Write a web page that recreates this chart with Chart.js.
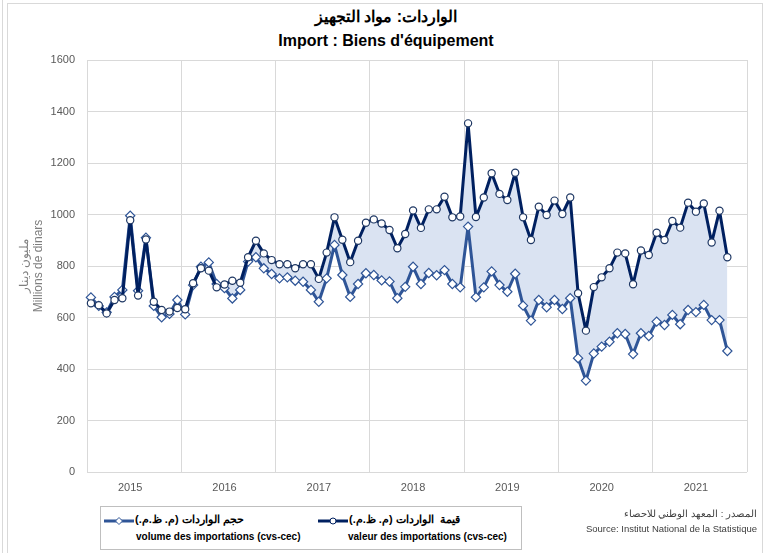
<!DOCTYPE html>
<html>
<head>
<meta charset="utf-8">
<script src="https://cdn.jsdelivr.net/npm/chart.js@4.4.1/dist/chart.umd.min.js"></script>
<style>
  body { margin: 0; background: #fff; font-family: "Liberation Sans", Arial, sans-serif; }
  #wrap { position: relative; width: 767px; height: 553px; overflow: hidden; }
  #frame { position: absolute; left: 7px; top: 3px; width: 754px; height: 560px; border: 1px solid #d9d9d9; }
  #edge { position: absolute; left: 2px; top: 0; width: 1px; height: 553px; background: #d9d9d9; }
  #chartBox { position: absolute; left: 0; top: 0; width: 767px; height: 553px; }
  .title { position: absolute; left: 0; width: 772px; text-align: center; font-weight: bold; font-size: 16px; color: #000; }
  #legend { position: absolute; left: 100px; top: 506px; width: 420px; height: 42px; border: 1px solid #bfbfbf; background: #fff; }
  .lg { position: absolute; font-weight: bold; font-size: 10px; color: #000; white-space: nowrap; }
  .lg.ar { font-size: 11px; }
  .ar { direction: rtl; }
  .src { position: absolute; right: 10px; font-size: 9.5px; color: #404040; white-space: nowrap; }
</style>
</head>
<body>
<div id="wrap">
  <div id="frame"></div>
  <div id="edge"></div>
  <div class="title" style="top:7px;">الواردات: مواد التجهيز</div>
  <div class="title" style="top:32px;">Import : Biens d'équipement</div>
  <div id="chartBox"><canvas id="myChart"></canvas></div>
  <div id="legend">
    <svg style="position:absolute;left:3px;top:9px" width="30" height="10">
      <line x1="0" y1="5" x2="30" y2="5" stroke="#2f5597" stroke-width="3"/>
      <polygon points="15,1.5 18.5,5 15,8.5 11.5,5" fill="#fff" stroke="#2f5597" stroke-width="1"/>
    </svg>
    <div class="lg ar" style="left:34px;top:6px;">حجم الواردات (م. ظ.م.)</div>
    <div class="lg" style="left:35px;top:24px;">volume des importations (cvs-cec)</div>
    <svg style="position:absolute;left:217px;top:9px" width="30" height="10">
      <line x1="0" y1="5" x2="30" y2="5" stroke="#002060" stroke-width="3"/>
      <circle cx="15" cy="5" r="3" fill="#fff" stroke="#002060" stroke-width="1"/>
    </svg>
    <div class="lg ar" style="left:248px;top:6px;">قيمة &nbsp;الواردات (م. ظ.م.)</div>
    <div class="lg" style="left:247px;top:24px;">valeur des importations (cvs-cec)</div>
  </div>
  <div class="src ar" style="top:508px;">المصدر : المعهد الوطني للاحصاء</div>
  <div class="src" style="top:523px;">Source: Institut National de la Statistique</div>
</div>
<script>
const years = ['2015', '2016', '2017', '2018', '2019', '2020', '2021'];
const yTicks = [0, 200, 400, 600, 800, 1000, 1200, 1400, 1600];

// valeur des importations (cvs-cec), janv. 2015 -> oct. 2021
const valeurImport = [
    655, 648, 616, 668, 675, 978, 685, 903, 661, 629, 623, 637,
    632, 733, 791, 782, 717, 728, 743, 735, 834, 898, 849, 823,
    807, 807, 791, 807, 807, 750, 852, 989, 902, 815, 898, 968,
    981, 965, 940, 869, 924, 1016, 948, 1020, 1020, 1069, 989, 992,
    1354, 990, 1066, 1160, 1080, 1056, 1162, 989, 901, 1030, 998, 1054,
    1002, 1066, 694, 549, 718, 756, 791, 852, 849, 729, 860, 843,
    929, 901, 975, 949, 1046, 1011, 1043, 891, 1015, 834
];

// volume des importations (cvs-cec)
const volumeImport = [
    678, 645, 620, 680, 707, 995, 704, 910, 645, 601, 614, 668,
    612, 726, 797, 814, 730, 714, 674, 707, 817, 834, 791, 769,
    752, 756, 743, 739, 707, 661, 752, 882, 765, 680, 730, 772,
    765, 744, 740, 675, 719, 797, 730, 773, 764, 784, 730, 717,
    953, 679, 717, 779, 726, 700, 770, 646, 588, 668, 640, 668,
    633, 675, 442, 355, 460, 487, 506, 539, 536, 458, 539, 528,
    584, 571, 610, 574, 629, 621, 649, 590, 590, 470
];

const months = [];
years.forEach(y => {
    for (let m = 1; m <= 12; m++) months.push(y + '-' + m);
});

const ctx = document.getElementById('myChart').getContext('2d');
new Chart(ctx, {
    type: 'line',
    data: {
        labels: months,
        datasets: [{
            label: 'valeur des importations (cvs-cec)',
            data: valeurImport,
            borderColor: '#002060',
            borderWidth: 3,
            borderJoinStyle: 'round',
            backgroundColor: 'rgba(218, 227, 242, 1)',
            fill: '+1',
            tension: 0,
            pointStyle: 'circle',
            pointRadius: 3.6,
            pointBackgroundColor: '#fff',
            pointBorderColor: '#1f3864',
            pointBorderWidth: 1.2
        }, {
            label: 'volume des importations (cvs-cec)',
            data: volumeImport,
            borderColor: '#2f5597',
            borderWidth: 3,
            borderJoinStyle: 'round',
            fill: false,
            tension: 0,
            pointStyle: 'rectRot',
            pointRadius: 4.6,
            pointBackgroundColor: '#fff',
            pointBorderColor: '#2f5597',
            pointBorderWidth: 1.2
        }]
    },
    options: {
        responsive: true,
        maintainAspectRatio: false,
        animation: false,
        layout: { padding: { top: 60, left: 13, right: 20, bottom: 51 } },
        plugins: {
            legend: { display: false },
            tooltip: { enabled: false },
            filler: { drawTime: 'beforeDatasetsDraw' }
        },
        scales: {
            x: {
                type: 'category',
                offset: true,
                grid: {
                    offset: true,
                    drawTicks: false,
                    color: c => (c.index === undefined || c.index % 12 === 0) ? '#d9d9d9' : 'rgba(0,0,0,0)'
                },
                border: { display: false },
                ticks: {
                    autoSkip: false,
                    maxRotation: 0,
                    padding: 9,
                    color: '#595959',
                    font: { size: 11 },
                    callback: (v, i) => i % 12 === 5 ? years[Math.floor(i / 12)] : ''
                },
                afterFit: s => { s.height = 30; }
            },
            y: {
                min: 0,
                max: 1600,
                afterBuildTicks: s => { s.ticks = yTicks.map(v => ({ value: v })); },
                grid: { color: '#d9d9d9', drawTicks: false },
                border: { display: false },
                ticks: { padding: 12, color: '#595959', font: { size: 11 }, callback: v => String(v) },
                title: {
                    display: true,
                    text: ['مليون دينار', 'Millions de dinars'],
                    color: '#7f7f7f',
                    font: { size: 12 },
                    padding: { top: 4, bottom: 0 }
                },
                afterFit: s => { s.width = 74; }
            }
        }
    }
});
</script>
</body>
</html>
